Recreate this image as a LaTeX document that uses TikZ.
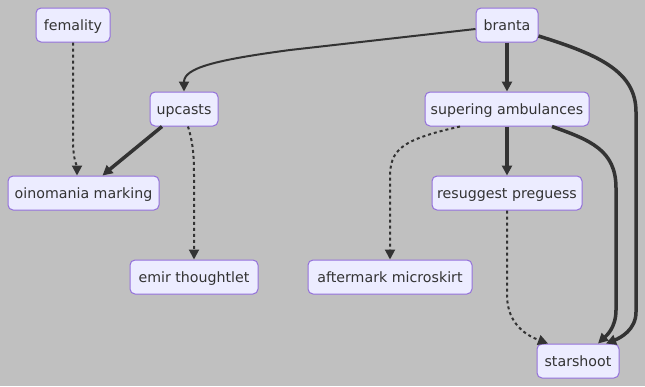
\documentclass[tikz,border=0pt]{standalone}
\usepackage{fontspec}
\setmainfont{DejaVu Sans}
\usetikzlibrary{arrows.meta}
\definecolor{bgcol}{HTML}{C0C0C0}
\definecolor{boxfill}{HTML}{ECECFF}
\definecolor{boxline}{HTML}{9370DB}
\definecolor{ink}{HTML}{333333}
\tikzset{
  box/.style={draw=boxline, line width=1pt, fill=boxfill, rounded corners=5pt,
    minimum height=34pt, inner xsep=0pt, inner ysep=0pt, text=ink,
    text height=12pt, text depth=0.6pt,
    font=\fontsize{14.2pt}{16pt}\selectfont, anchor=center},
  tip/.style={-{Triangle[length=10pt,width=10pt]}},
  edge/.style={draw=ink, line width=2pt, tip},
  thickedge/.style={draw=ink, line width=3.5pt, tip},
  dotedge/.style={draw=ink, line width=2pt, dash pattern=on 3pt off 3pt, tip},
}
\begin{document}
\begin{tikzpicture}[x=1pt, y=-1pt]
  \fill[bgcol] (0,0) rectangle (645,386);
  \useasboundingbox (0,0) rectangle (645,386);

  % nodes
  \node[box, minimum width=74pt]  (femality)  at (73,25)    {femality};
  \node[box, minimum width=62pt]  (branta)    at (507,25)   {branta};
  \node[box, minimum width=68pt]  (upcasts)   at (184,109)  {upcasts};
  \node[box, minimum width=164pt] (supering)  at (507,109)  {supering ambulances};
  \node[box, minimum width=151pt] (oinomania) at (83.5,193) {oinomania marking};
  \node[box, minimum width=150pt] (resuggest) at (507,193)  {resuggest preguess};
  \node[box, minimum width=128pt] (emir)      at (194,277)  {emir thoughtlet};
  \node[box, minimum width=164pt] (aftermark) at (390,277)  {aftermark microskirt};
  \node[box, minimum width=82pt]  (starshoot) at (578,361)  {starshoot};

  % connectors
  \draw[dotedge] (femality.south) -- (73,140)
    .. controls (73,160) and (77,166) .. ([xshift=-6.5pt]oinomania.north);
  \draw[thickedge] ([xshift=-22pt]upcasts.south)
    .. controls (135,148) .. ([xshift=19pt]oinomania.north);
  \draw[dotedge] ([xshift=4pt]upcasts.south)
    .. controls (192,140) and (194,150) .. (194,175) -- (emir.north);
  \draw[edge] ([yshift=-4pt]branta.west) -- (290,50)
    .. controls (215,60) and (184,68) .. (upcasts.north);
  \draw[thickedge] (branta.south) -- (supering.north);
  \draw[thickedge] ([yshift=-11pt]branta.east)
    .. controls (600,55) and (636,72) .. (636,112) -- (636,312)
    .. controls (636,330) and (620,338) .. ([xshift=28pt]starshoot.north);
  \draw[dotedge] ([xshift=-47pt]supering.south)
    .. controls (400,140) and (390,150) .. (390,178) -- (aftermark.north);
  \draw[thickedge] (supering.south) -- (resuggest.north);
  \draw[thickedge] ([xshift=45pt]supering.south)
    .. controls (590,140) and (616,150) .. (616,188) -- (616,310)
    .. controls (616,328) and (606,336) .. ([xshift=20pt]starshoot.north);
  \draw[dotedge] (resuggest.south) -- (507,295)
    .. controls (507,325) and (528,336) .. ([xshift=-30pt]starshoot.north);
\end{tikzpicture}
\end{document}
